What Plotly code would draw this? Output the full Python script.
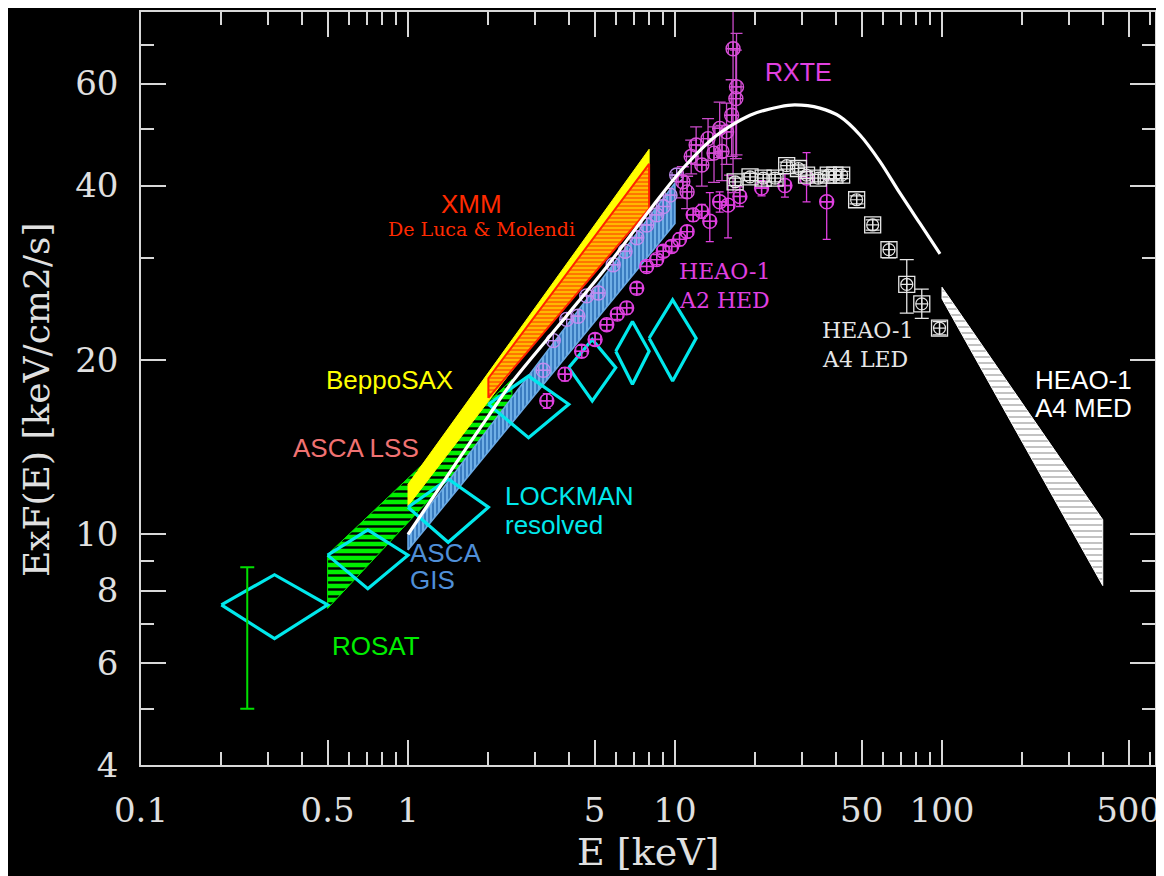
import numpy as np
import plotly.graph_objects as go

# ---------------- data (E in keV, E*F(E) in keV/cm2/s) ----------------
# Model curve (white)
model_e = [1.0, 1.5, 2.0, 2.45, 3.4, 5.4, 8.3, 10.7, 14.3, 19.1, 24.7, 28.1, 34.9, 41.5, 49.3, 58.6, 69.6, 82.7, 98.3]
model_f = [10.0, 13.2, 16.0, 18.3, 22.0, 28.5, 37.0, 42.8, 48.8, 52.9, 54.7, 55.1, 54.4, 52.6, 48.9, 44.0, 38.8, 34.4, 30.5]

# Bands (closed polygons)
rosat_band_e = [0.5, 0.5, 2.45, 2.45]
rosat_band_f = [7.45, 9.23, 18.5, 16.3]
sax_band_e = [1.0, 1.0, 8.0, 8.0]
sax_band_f = [11.2, 12.2, 46.2, 39.0]
xmm_band_e = [2.0, 2.0, 8.0, 8.0]
xmm_band_f = [17.2, 18.6, 43.6, 36.5]
gis_band_e = [1.0, 1.0, 10.0, 10.0]
gis_band_f = [9.4, 10.0, 40.4, 34.4]
med_band_e = [100.0, 100.0, 400.0, 400.0]
med_band_f = [25.5, 26.7, 10.6, 8.16]

# Lockman resolved (diamonds)
lock_elo = [0.2, 0.5, 1.0, 2.0, 4.0, 6.0, 8.0]
lock_ehi = [0.5, 1.0, 2.0, 4.0, 6.0, 8.0, 12.0]
lock_f = [7.56, 9.21, 11.14, 16.77, 19.4, 20.7, 21.8]
lock_fhi = [8.52, 10.18, 12.46, 18.76, 21.7, 23.3, 25.4]
lock_flo = [6.61, 8.06, 9.69, 14.69, 17.0, 18.16, 18.4]

# ROSAT 1/4 keV error bar
rosat_pt_e = [0.25]
rosat_pt_f = [6.6]
rosat_pt_up = [2.18]
rosat_pt_dn = [1.6]

# HEAO-1 A2 HED (magenta)
hed_e = [3.31, 3.87, 4.47, 5.02, 5.55, 6.08, 6.59, 7.19, 7.83, 8.54, 9.04, 9.72, 10.4, 11.1, 11.7, 12.6,
         13.5, 14.7, 15.8, 17.5, 21.1, 25.8, 31.1, 37.0]
hed_f = [17.0, 18.9, 20.7, 21.7, 23.0, 24.0, 24.6, 26.6, 29.0, 29.8, 30.8, 31.4, 32.3, 33.3, 35.6, 36.1,
         34.7, 37.5, 37.0, 38.3, 39.6, 40.0, 41.2, 37.5]
hed_up = [0.5, 0.5, 0.5, 0.5, 0.5, 0.5, 0.6, 0.6, 0.6, 0.6, 0.7, 0.7, 0.8, 0.8, 0.9, 1.0,
          4.2, 1.5, 4.7, 1.5, 1.2, 1.9, 4.4, 3.5]
hed_dn = [0.5, 0.5, 0.5, 0.5, 0.5, 0.5, 0.6, 0.6, 0.6, 0.6, 0.7, 0.7, 0.8, 0.8, 0.9, 1.0,
          2.7, 1.5, 4.5, 1.5, 1.2, 1.8, 3.7, 5.2]

# RXTE (magenta, soft part seen through the ASCA GIS band)
rxs_e = [3.21, 3.50, 3.93, 4.33, 4.67, 5.16, 5.87, 6.50, 7.19, 7.83, 8.54, 9.04, 9.58, 10.15]
rxs_f = [19.2, 21.6, 23.5, 23.8, 25.8, 26.1, 29.2, 30.8, 32.5, 34.2, 35.6, 36.8, 38.5, 41.7]

# RXTE (magenta, hard part)
rxte_e = [10.7, 11.1, 11.5, 12.0, 12.6, 13.3, 14.0, 14.7, 15.0, 15.6, 16.3, 16.9, 17.0, 16.5]
rxte_f = [40.6, 39.0, 44.9, 47.0, 43.4, 48.2, 45.5, 50.2, 45.8, 49.5, 52.9, 56.5, 59.2, 68.9]
rxte_up = [2.5, 2.5, 3.0, 3.5, 3.5, 4.0, 5.0, 5.5, 5.0, 6.0, 8.0, 12.0, 14.0, 20.0]
rxte_dn = [2.5, 2.5, 3.0, 3.5, 3.5, 4.0, 5.0, 5.5, 5.0, 6.0, 8.0, 12.0, 14.0, 30.0]

# HEAO-1 A4 LED (white)
led_e = [16.8, 19.1, 21.4, 23.7, 26.2, 29.0, 31.1, 34.4, 37.5, 39.7, 42.1, 47.9, 55.0, 63.3, 73.8, 84.0, 97.9]
led_f = [40.6, 41.4, 41.2, 41.2, 43.3, 42.8, 41.7, 41.2, 41.7, 41.7, 41.7, 37.8, 34.2, 31.0, 27.0, 25.0, 22.7]
led_up = [0.6, 0.6, 0.6, 0.6, 0.6, 0.6, 0.6, 0.6, 0.6, 0.6, 0.6, 0.6, 0.7, 1.0, 2.8, 1.5, 0.6]
led_dn = [0.6, 0.6, 0.6, 0.6, 0.6, 0.6, 0.6, 0.6, 0.6, 0.6, 0.6, 0.6, 0.7, 1.0, 2.9, 1.4, 0.6]

# Axis ticks
x_major = [0.1, 0.5, 1, 5, 10, 50, 100, 500]
x_labels = ["0.1", "0.5", "1", "5", "10", "50", "100", "500"]
x_minor = [0.2, 0.3, 0.4, 0.6, 0.7, 0.8, 0.9, 2, 3, 4, 6, 7, 8, 9, 20, 30, 40, 60, 70, 80, 90,
           200, 300, 400, 600]
y_major = [4, 6, 8, 10, 20, 40, 60]
y_labels = ["4", "6", "8", "10", "20", "40", "60"]
y_minor = [5, 7, 9, 30, 50, 70]

# ---------------- figure ----------------
fig = go.Figure()


def closed(xs, ys):
    return list(xs) + [xs[0]], list(ys) + [ys[0]]


def band(xs, ys, line_color, line_width, bg, fg, shape, size, solidity):
    cx, cy = closed(xs, ys)
    patt = None
    if shape:
        patt = dict(shape=shape, bgcolor=bg, fgcolor=fg, size=size, solidity=solidity, fillmode="replace")
    fig.add_trace(go.Scatter(x=cx, y=cy, mode="lines", fill="toself", fillcolor=bg,
                             fillpattern=patt,
                             line=dict(color=line_color, width=line_width), hoverinfo="skip"))


band(rosat_band_e, rosat_band_f, "#00ee00", 1, "#00ee00", "#000000", "-", 7, 0.35)
band(sax_band_e, sax_band_f, "#ffff00", 1, "#ffff00", None, None, 0, 0)
band(xmm_band_e, xmm_band_f, "#ff2200", 2, "#ffb800", "#ff3300", "-", 4, 0.25)
band(med_band_e, med_band_f, "#ffffff", 1, "#ffffff", "#9a9a9a", "-", 6, 0.2)
band(gis_band_e, gis_band_f, "#6aaae6", 1.5, "#3a7cc0", "#7cbcf0", "|", 4, 0.4)

# Lockman diamonds
dx, dy = [], []
for lo, hi, f, fh, fl in zip(lock_elo, lock_ehi, lock_f, lock_fhi, lock_flo):
    ec = np.sqrt(lo * hi)
    dx += [lo, ec, hi, ec, lo, None]
    dy += [f, fh, f, fl, f, None]
fig.add_trace(go.Scatter(x=dx, y=dy, mode="lines", line=dict(color="#00e8ec", width=3.2), hoverinfo="skip"))

# ROSAT error bar
fig.add_trace(go.Scatter(x=rosat_pt_e, y=rosat_pt_f, mode="markers", marker=dict(size=1, color="#00e000"),
                         error_y=dict(type="data", array=rosat_pt_up, arrayminus=rosat_pt_dn,
                                      color="#00e000", thickness=2, width=7)))

magenta = "#e040e0"
# HEAO-1 A2 HED
fig.add_trace(go.Scatter(x=hed_e, y=hed_f, mode="markers",
                         marker=dict(symbol="circle-cross-open", size=14, color=magenta, line=dict(width=1.4)),
                         error_y=dict(type="data", array=hed_up, arrayminus=hed_dn, color=magenta, thickness=1.3, width=4),
                         error_x=dict(type="percent", value=5, color=magenta, thickness=1.3, width=4)))
# RXTE soft
fig.add_trace(go.Scatter(x=rxs_e, y=rxs_f, mode="markers",
                         marker=dict(symbol="circle-cross-open", size=14, color="#c08cf0", line=dict(width=1.4)),
                         error_x=dict(type="percent", value=4, color="#c08cf0", thickness=1.2, width=3)))
# RXTE hard
fig.add_trace(go.Scatter(x=rxte_e, y=rxte_f, mode="markers",
                         marker=dict(symbol="circle-cross-open", size=14, color="#d94fd9", line=dict(width=1.4)),
                         error_y=dict(type="data", array=rxte_up, arrayminus=rxte_dn, color="#c94ac9", thickness=1.3, width=6),
                         error_x=dict(type="percent", value=4, color="#c94ac9", thickness=1.3, width=5)))
# HEAO-1 A4 LED
fig.add_trace(go.Scatter(x=led_e, y=led_f, mode="markers",
                         marker=dict(symbol="square-open", size=16, color="#e6e6e6", line=dict(width=1.3)),
                         error_y=dict(type="data", array=led_up, arrayminus=led_dn, color="#e6e6e6", thickness=1.3, width=7)))
fig.add_trace(go.Scatter(x=led_e, y=led_f, mode="markers",
                         marker=dict(symbol="circle-cross-open", size=12, color="#e6e6e6", line=dict(width=1.2))))

# Model curve
fig.add_trace(go.Scatter(x=model_e, y=model_f, mode="lines", line=dict(color="white", width=3.2, shape="spline", smoothing=0.8),
                         hoverinfo="skip"))

# ---------------- labels ----------------
L = np.log10
serif = "DejaVu Serif"
sans = "Liberation Sans"
ann = []


def label(text, e, f, color, family, size, xanchor="center", yanchor="middle"):
    ann.append(dict(x=L(e), y=L(f), xref="x", yref="y", text=text, showarrow=False,
                    xanchor=xanchor, yanchor=yanchor, font=dict(family=family, size=size, color=color)))


label("RXTE", 29.1, 62.9, magenta, sans, 25)
label("XMM", 1.733, 37.2, "#ff2a00", sans, 26)
label("De Luca &amp; Molendi", 1.877, 33.6, "#ff2a00", serif, 19)
label("HEAO-1", 10.15, 28.4, magenta, serif, 22, xanchor="left")
label("A2 HED", 10.15, 25.3, magenta, serif, 22, xanchor="left")
label("HEAO-1", 34.9, 22.5, "#e6e6e6", serif, 22, xanchor="left")
label("A4 LED", 34.9, 20.0, "#e6e6e6", serif, 22, xanchor="left")
label("HEAO-1", 219, 18.5, "white", sans, 26, xanchor="left")
label("A4 MED", 219, 16.5, "white", sans, 26, xanchor="left")
label("BeppoSAX", 0.856, 18.5, "#ffff00", sans, 26)
label("ASCA LSS", 0.639, 14.1, "#f07272", sans, 26)
label("LOCKMAN", 2.27, 11.66, "#00e8ec", sans, 26, xanchor="left")
label("resolved", 2.27, 10.4, "#00e8ec", sans, 26, xanchor="left")
label("ASCA", 1.0, 9.29, "#4f8fd8", sans, 26, xanchor="left")
label("GIS", 1.0, 8.33, "#4f8fd8", sans, 26, xanchor="left")
label("ROSAT", 0.759, 6.41, "#00ee00", sans, 26)

# axis titles
ann.append(dict(x=0.5, y=-0.115, xref="paper", yref="paper", text="E [keV]", showarrow=False,
                xanchor="center", yanchor="middle", font=dict(family=serif, size=38, color="#e0e0e0")))
ann.append(dict(x=-0.1036, y=0.486, xref="paper", yref="paper", text="ExF(E) [keV/cm2/s]", showarrow=False,
                textangle=-90, xanchor="center", yanchor="middle", font=dict(family=serif, size=36, color="#e0e0e0")))

axis_col = "#d8d8d8"
common = dict(type="log", showgrid=False, zeroline=False, showline=True, linecolor=axis_col, linewidth=1.5,
              mirror="ticks", ticks="inside", ticklen=25, tickwidth=1.5, tickcolor=axis_col,
              tickfont=dict(family=serif, size=34, color="#e0e0e0"), ticklabelstandoff=14)

# page body adds an 8 px offset, so the figure is 8 px smaller than the window
fig.update_layout(
    width=1156, height=868,
    paper_bgcolor="black", plot_bgcolor="black",
    margin=dict(l=133, r=9, t=2, b=111),
    showlegend=False,
    annotations=ann,
    xaxis=dict(range=[-1, 2.7978], tickmode="array", tickvals=x_major, ticktext=x_labels,
               minor=dict(tickmode="array", tickvals=x_minor, ticks="inside", ticklen=13, tickwidth=1.5, tickcolor=axis_col),
               **common),
    yaxis=dict(range=[0.60206, 1.90154], tickmode="array", tickvals=y_major, ticktext=y_labels,
               minor=dict(tickmode="array", tickvals=y_minor, ticks="inside", ticklen=13, tickwidth=1.5, tickcolor=axis_col),
               **common),
)

fig.write_html("out.html")
